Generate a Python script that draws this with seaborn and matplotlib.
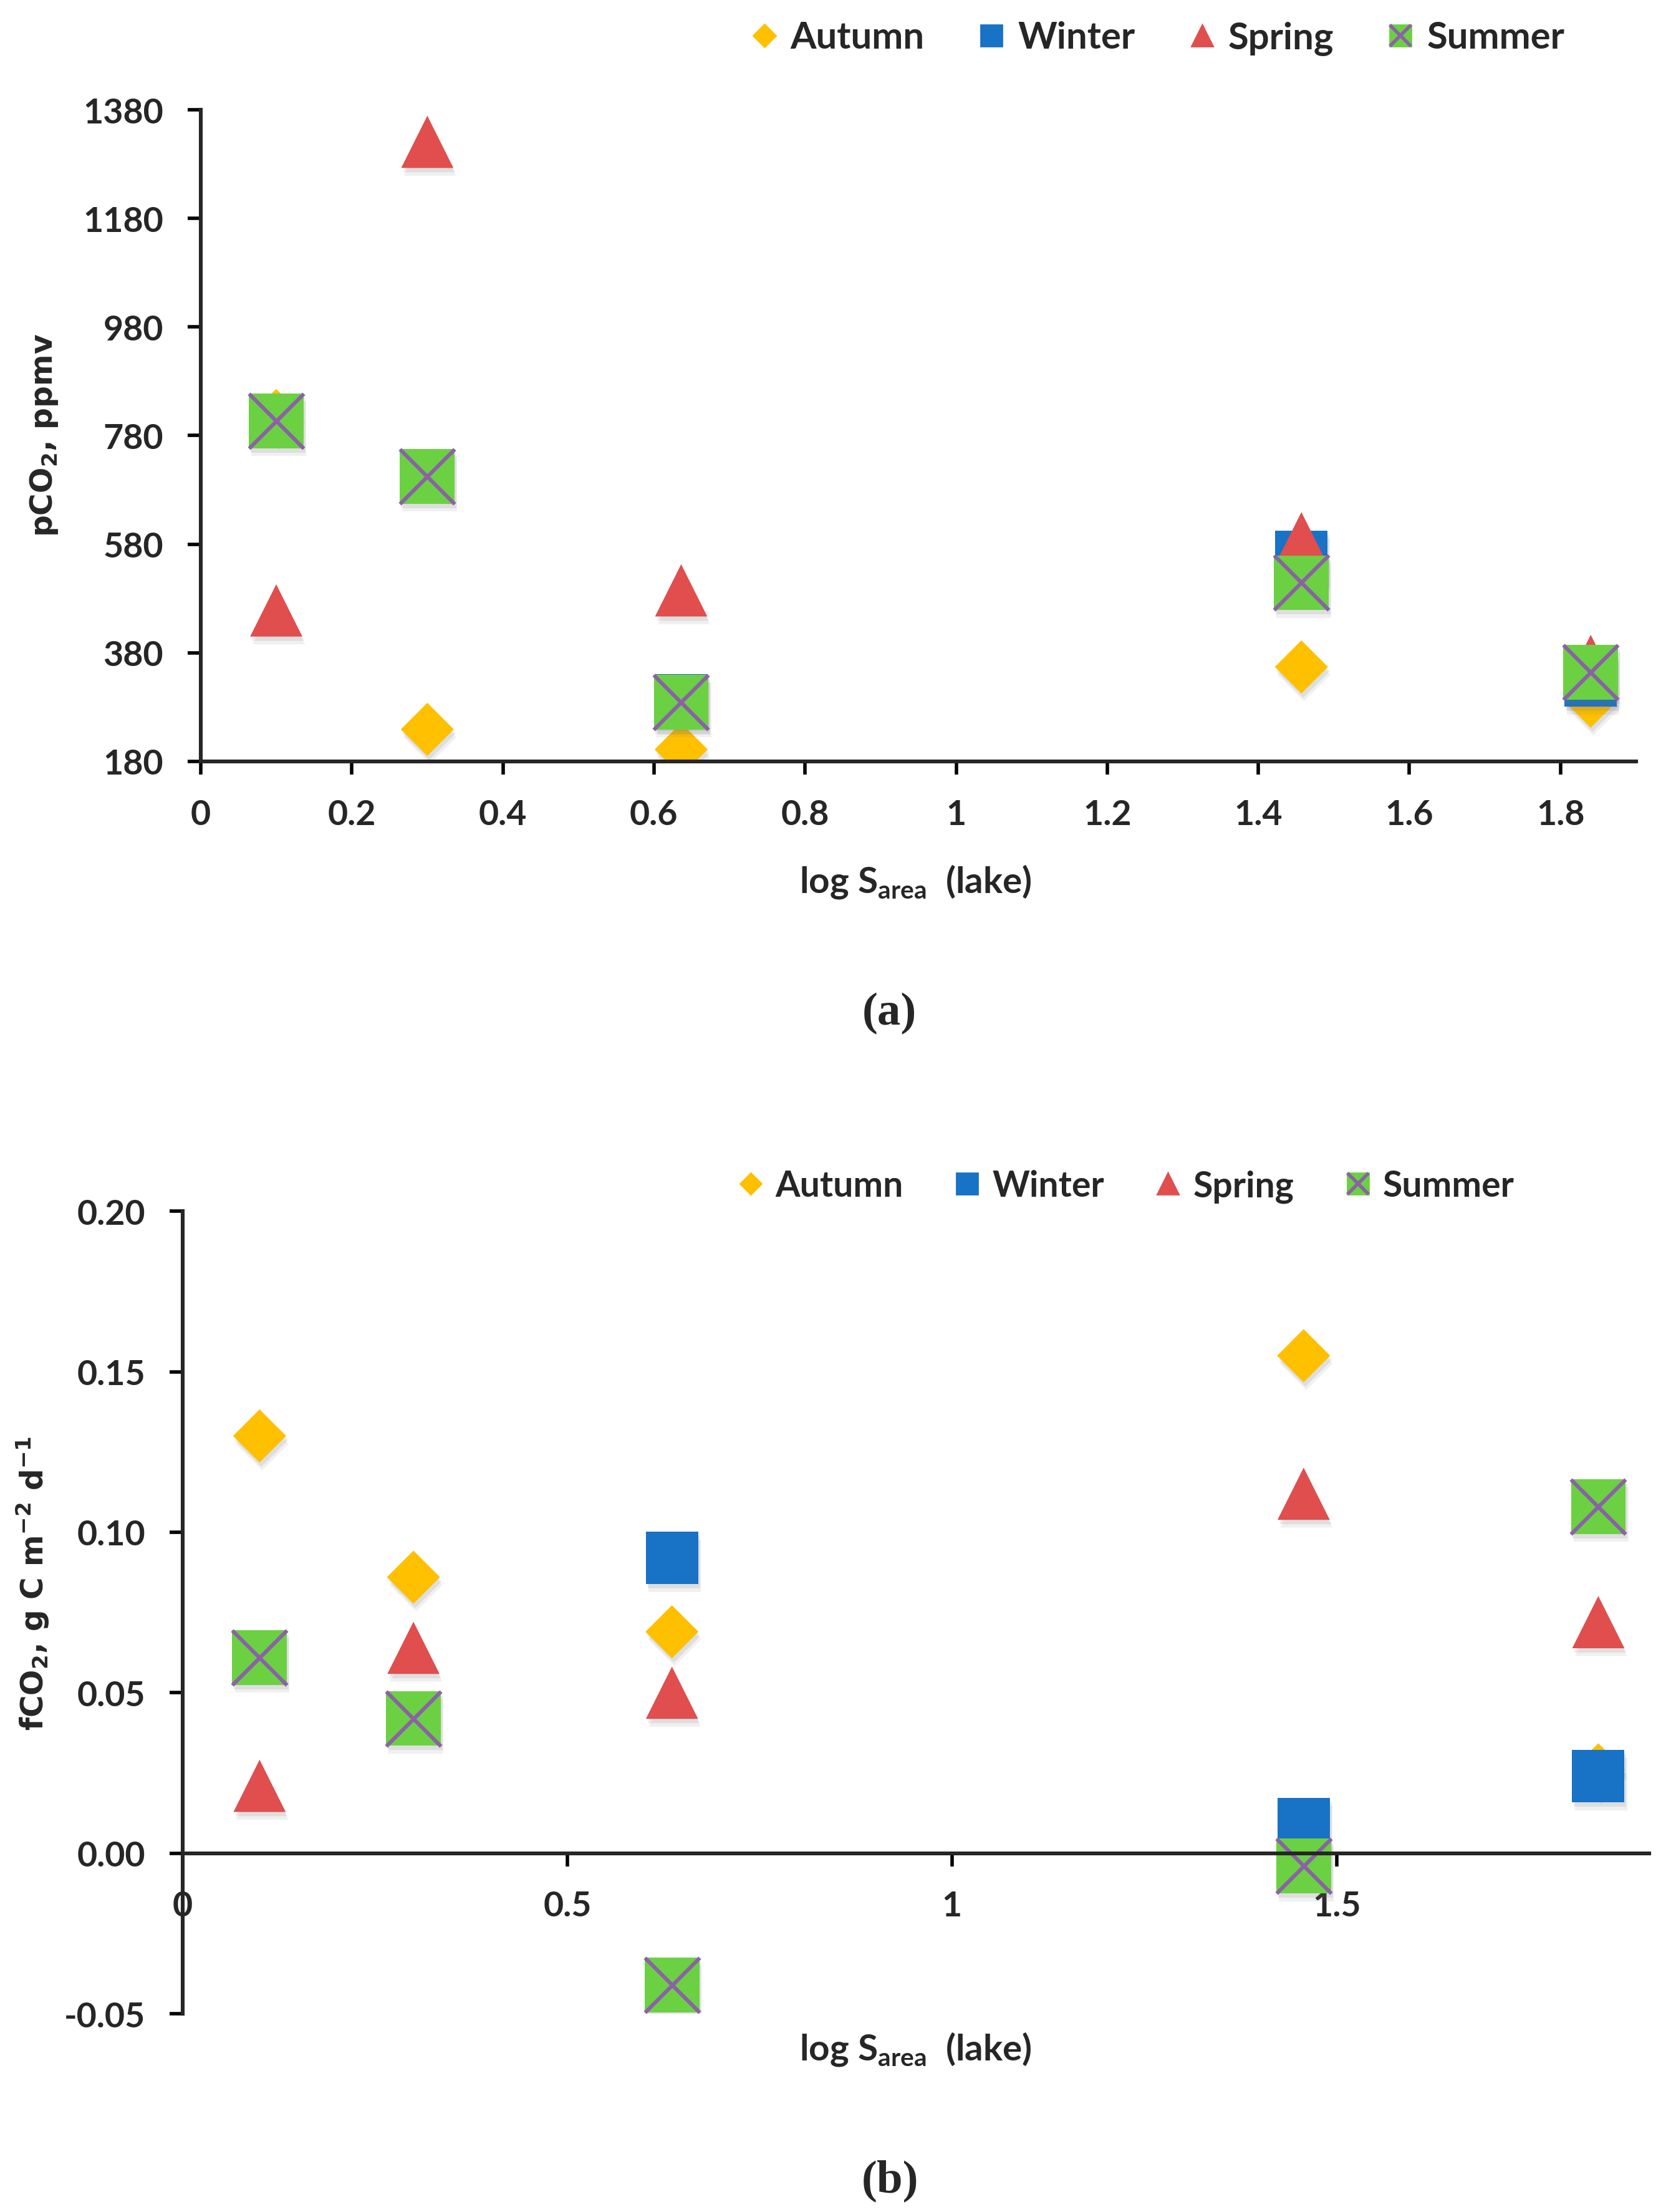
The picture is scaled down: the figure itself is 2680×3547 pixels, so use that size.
import numpy as np
import pandas as pd
import matplotlib
matplotlib.use("Agg")
import matplotlib.pyplot as plt
import matplotlib.patheffects as pe
from matplotlib.lines import Line2D
from matplotlib.legend_handler import HandlerTuple
import seaborn as sns

# --- data ---
log_area = [0.1, 0.3, 0.636, 1.457, 1.84]
seasons = ["Autumn", "Winter", "Spring", "Summer"]

# (a) pCO2, ppmv
pco2_autumn = [817, 239, 202, 354, 291]
pco2_winter = [np.nan, np.nan, 292, 557, 329]
pco2_spring = [458, 1321, 495, 591, 365]
pco2_summer = [807, 705, 289, 509, 344]

# (b) fCO2, g C m-2 d-1
fco2_autumn = [0.130, 0.086, 0.069, 0.155, 0.026]
fco2_winter = [np.nan, np.nan, 0.092, 0.009, 0.024]
fco2_spring = [0.021, 0.064, 0.050, 0.112, 0.072]
fco2_summer = [0.061, 0.042, -0.041, -0.004, 0.108]

yticks_a = [180, 380, 580, 780, 980, 1180, 1380]
xticks_a = [0, 0.2, 0.4, 0.6, 0.8, 1, 1.2, 1.4, 1.6, 1.8]
xticklabels_a = ["0", "0.2", "0.4", "0.6", "0.8", "1", "1.2", "1.4", "1.6", "1.8"]
yticks_b = [-0.05, 0, 0.05, 0.10, 0.15, 0.20]
yticklabels_b = ["-0.05", "0.00", "0.05", "0.10", "0.15", "0.20"]
xticks_b = [0, 0.5, 1, 1.5]
xticklabels_b = ["0", "0.5", "1", "1.5"]

# --- styles ---
colors = {"Autumn": "#FFC000", "Winter": "#1872C6", "Spring": "#E04E4E", "Summer": "#6CD043"}
markers = {"Autumn": "D", "Winter": "s", "Spring": "^", "Summer": "s"}
sizes = {"Autumn": 470, "Winter": 915, "Spring": 910, "Summer": 1000}
cross_color = "#8A62A5"

sns.set_style("ticks")
plt.rcParams["font.family"] = ["Lato", "DejaVu Sans"]
plt.rcParams["font.weight"] = "bold"
plt.rcParams["axes.labelweight"] = "bold"
plt.rcParams["axes.linewidth"] = 2.2

shadow = [pe.SimplePatchShadow(offset=(1.0, -2.5), shadow_rgbFace="0.45", alpha=0.14),
          pe.SimplePatchShadow(offset=(1.5, -4.5), shadow_rgbFace="0.45", alpha=0.10),
          pe.Normal()]


def long_table(values):
    return pd.DataFrame({
        "log_area": log_area * len(seasons),
        "season": np.repeat(seasons, len(log_area)),
        "value": np.concatenate(values),
    })


def draw_panel(ax, df):
    for s in seasons:
        sub = df[df["season"] == s]
        sns.scatterplot(data=sub, x="log_area", y="value", marker=markers[s],
                        color=colors[s], s=sizes[s], linewidth=0, ax=ax, legend=False)
        ax.collections[-1].set_path_effects(shadow)
        if s == "Summer":
            sns.scatterplot(data=sub, x="log_area", y="value", marker="x",
                            color=cross_color, s=sizes[s], linewidth=2.2, ax=ax, legend=False)
    sns.despine(ax=ax)
    ax.tick_params(axis="both", direction="out", length=7.5, width=2.0,
                   labelsize=20, pad=14, color="black")
    ax.set_xlabel("")
    ax.set_ylabel("")


def legend_handles(ms):
    h = [Line2D([], [], ls="none", marker="D", color=colors["Autumn"], markersize=ms * 0.72),
         Line2D([], [], ls="none", marker="s", color=colors["Winter"], markersize=ms),
         Line2D([], [], ls="none", marker="^", color=colors["Spring"], markersize=ms),
         (Line2D([], [], ls="none", marker="s", color=colors["Summer"], markersize=ms),
          Line2D([], [], ls="none", marker="x", color=cross_color, markersize=ms, mew=2.0))]
    return h


fig = plt.figure(figsize=(13.4, 17.74), dpi=200)

# ---- panel (a) ----
ax1 = fig.add_axes([0.1201, 0.6556, 0.859, 0.2945])
draw_panel(ax1, long_table([pco2_autumn, pco2_winter, pco2_spring, pco2_summer]))
ax1.set_xlim(0, 1.9)
ax1.set_ylim(180, 1380)
ax1.set_yticks(yticks_a)
ax1.set_yticklabels([str(v) for v in yticks_a])
ax1.set_xticks(xticks_a)
ax1.set_xticklabels(xticklabels_a)
ax1.set_xlabel(r"log S$_\mathregular{area}$  (lake)", fontsize=21, fontweight="bold")
ax1.xaxis.set_label_coords(0.498, -0.155)
fig.text(71 / 2680, 1 - 698 / 3548, r"pCO$_\mathregular{2}$, ppmv", rotation=90,
         ha="center", va="center", fontsize=17.5, fontweight="bold", family="DejaVu Sans")
fig.text(1426 / 2680, 1 - 1625 / 3548, "(a)", ha="center", va="center",
         fontsize=27, fontweight="bold", family=["Liberation Serif", "DejaVu Serif"])
fig.legend(handles=legend_handles(12.5), labels=seasons, loc="center",
           bbox_to_anchor=(1857 / 2680, 1 - 62 / 3548), ncol=4, frameon=False,
           fontsize=21.5, handlelength=0.7, handletextpad=0.35, columnspacing=1.45,
           handler_map={tuple: HandlerTuple(ndivide=1)})

# ---- panel (b) ----
ax2 = fig.add_axes([0.1093, 0.0896, 0.8776, 0.3627])
draw_panel(ax2, long_table([fco2_autumn, fco2_winter, fco2_spring, fco2_summer]))
ax2.spines["bottom"].set_position(("data", 0))
ax2.set_xlim(0, 1.906)
ax2.set_ylim(-0.05, 0.20)
ax2.set_yticks(yticks_b)
ax2.set_yticklabels(yticklabels_b)
ax2.set_xticks(xticks_b)
ax2.set_xticklabels(xticklabels_b)
ax2.set_xlabel(r"log S$_\mathregular{area}$  (lake)", fontsize=21, fontweight="bold")
ax2.xaxis.set_label_coords(0.4996, -0.020)
fig.text(53 / 2680, 1 - 2539 / 3548, r"fCO$_\mathregular{2}$, g C m$^\mathregular{-2}$ d$^\mathregular{-1}$",
         rotation=90, ha="center", va="center", fontsize=17.5, fontweight="bold",
         family="DejaVu Sans")
fig.text(1427 / 2680, 1 - 3497 / 3548, "(b)", ha="center", va="center",
         fontsize=27, fontweight="bold", family=["Liberation Serif", "DejaVu Serif"])
fig.legend(handles=legend_handles(12.0), labels=seasons, loc="center",
           bbox_to_anchor=(1806 / 2680, 1 - 1903 / 3548), ncol=4, frameon=False,
           fontsize=20.5, handlelength=0.7, handletextpad=0.35, columnspacing=1.45,
           handler_map={tuple: HandlerTuple(ndivide=1)})

fig.savefig("out.png", dpi=200, facecolor="white")
